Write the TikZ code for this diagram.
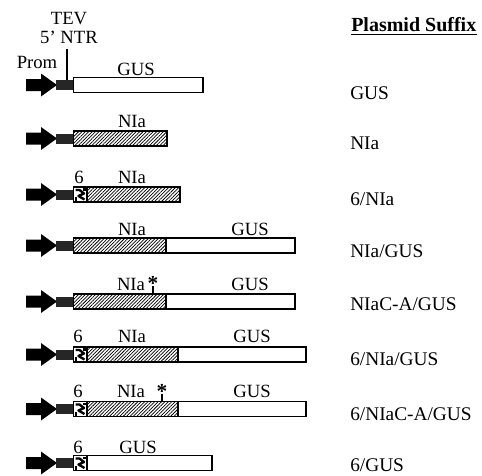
\documentclass[tikz,border=0pt]{standalone}
\usepackage{fontspec}
\setmainfont{Liberation Serif}
\usetikzlibrary{patterns.meta}
\tikzset{
  gusbox/.style={draw=black, line width=1pt, fill=white},
  niabox/.style={draw=black, line width=1pt, pattern={Lines[angle=45,distance=1.8pt,line width=0.55pt]}},
  lbl/.style={anchor=base, inner sep=0pt, font=\fontsize{14}{16}\selectfont},
  suffix/.style={anchor=base west, inner sep=0pt, font=\fontsize{14.5}{17}\selectfont},
  tick/.style={draw=black, line width=0.8pt},
}
\newcommand\promntr[1]{%
  \begin{scope}[shift={(0,#1)}]
    \fill[black] (26,-6) -- (41,-6) -- (41,-11.5) -- (57,0) -- (41,11.5) -- (41,6) -- (26,6) -- cycle;
    \fill[black!85] (56,-5) rectangle (73.5,5);
  \end{scope}}
\newcommand\sixpart[1]{%
  \begin{scope}[shift={(0,#1)}]
    \draw[gusbox] (73.5,-7.5) rectangle (87,7.5);
    \draw[black, line width=1.8pt, line join=round] (75.5,-4.5) -- (79.5,-4.5) -- (84,-1) -- (78.5,1.5) -- (84.5,5);
    \fill[black] (74.5,2.5) rectangle (77,6.5);
    \fill[black] (83,-6.5) rectangle (86,-4);
  \end{scope}}
\begin{document}
\begin{tikzpicture}[x=0.75pt,y=-0.75pt]
\useasboundingbox (0,0) rectangle (482,475);

% header labels
\node[lbl] (tev) at (69,24) {TEV};
\node[lbl] (ntr) at (69,43) {5' NTR};
\node[lbl] (prom) at (37,68) {Prom};
\coordinate (ntrtop) at (67,49);
\coordinate (ntrbox) at (67,80);
\draw[tick] (ntrtop) -- (ntrbox);

% row 1: GUS
\promntr{85}
\draw[gusbox] (73.5,77.5) rectangle (203,92.5);
\node[lbl] (gus1) at (136,75) {GUS};

% row 2: NIa
\promntr{138.5}
\draw[niabox] (73.5,131) rectangle (167,146);
\node[lbl] (nia2) at (132,127) {NIa};

% row 3: 6/NIa
\promntr{194.5}
\draw[niabox] (87,187) rectangle (180,202);
\sixpart{194.5}
\node[lbl] (six3) at (79,183) {6};
\node[lbl] (nia3) at (132,183) {NIa};

% row 4: NIa/GUS
\promntr{245.5}
\draw[gusbox] (166,238) rectangle (295,253);
\draw[niabox] (73.5,238) rectangle (166,253);
\node[lbl] (nia4) at (132,235) {NIa};
\node[lbl] (gus4) at (250,235) {GUS};

% row 5: NIaC-A/GUS
\promntr{301.5}
\draw[gusbox] (166,294) rectangle (295,309);
\draw[niabox] (73.5,294) rectangle (166,309);
\node[lbl] (nia5) at (131,290) {NIa};
\node[lbl, font=\fontsize{16}{18}\selectfont\bfseries] (star5) at (153,290) {*};
\coordinate (s5a) at (153,285.5);
\coordinate (s5b) at (153,294);
\draw[tick] (s5a) -- (s5b);
\node[lbl] (gus5) at (250,290) {GUS};

% row 6: 6/NIa/GUS
\promntr{354.5}
\draw[gusbox] (178,347) rectangle (306,362);
\draw[niabox] (87,347) rectangle (178,362);
\sixpart{354.5}
\node[lbl] (six6) at (78,342) {6};
\node[lbl] (nia6) at (132,342) {NIa};
\node[lbl] (gus6) at (252,342) {GUS};

% row 7: 6/NIaC-A/GUS
\promntr{409}
\draw[gusbox] (178,401.5) rectangle (306,416.5);
\draw[niabox] (87,401.5) rectangle (178,416.5);
\sixpart{409}
\node[lbl] (six7) at (78,397) {6};
\node[lbl] (nia7) at (131,397) {NIa};
\node[lbl, font=\fontsize{16}{18}\selectfont\bfseries] (star7) at (162,398) {*};
\coordinate (s7a) at (162,393.5);
\coordinate (s7b) at (162,401.5);
\draw[tick] (s7a) -- (s7b);
\node[lbl] (gus7) at (252,397) {GUS};

% row 8: 6/GUS
\promntr{463}
\draw[gusbox] (87,455.5) rectangle (212,470.5);
\sixpart{463}
\node[lbl] (six8) at (78,453) {6};
\node[lbl] (gus8) at (138,453) {GUS};

% suffix column
\node[anchor=base west, inner sep=0pt, font=\fontsize{15}{18}\selectfont\bfseries] (title) at (351,31) {Plasmid Suffix};
\draw[line width=1.1pt] ([yshift=-2.3pt]title.south west) -- ([yshift=-2.3pt]title.south east);
\node[suffix] (p1) at (350,99) {GUS};
\node[suffix] (p2) at (350,149) {NIa};
\node[suffix] (p3) at (350,205) {6/NIa};
\node[suffix] (p4) at (350,257) {NIa/GUS};
\node[suffix] (p5) at (350,310) {NIaC-A/GUS};
\node[suffix] (p6) at (350,365) {6/NIa/GUS};
\node[suffix] (p7) at (350,420) {6/NIaC-A/GUS};
\node[suffix] (p8) at (350,471) {6/GUS};
\end{tikzpicture}
\end{document}
